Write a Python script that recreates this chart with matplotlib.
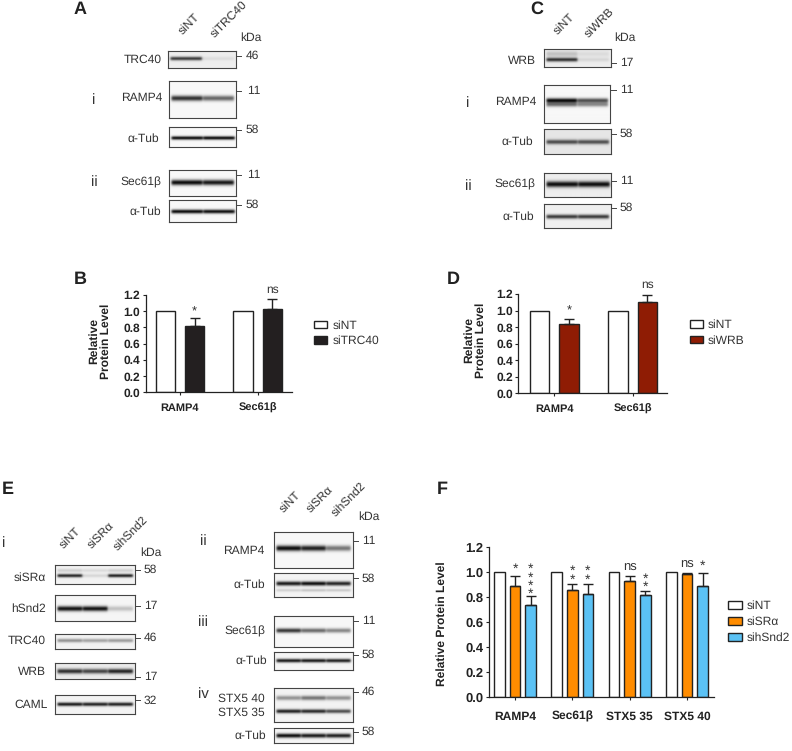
import numpy as np
import matplotlib
matplotlib.use("Agg")
import matplotlib.pyplot as plt
from matplotlib.transforms import Bbox

plt.rcParams["font.family"] = ["Liberation Sans", "DejaVu Sans"]
plt.rcParams["text.hinting"] = "no_hinting"
plt.rcParams["text.hinting_factor"] = 1

W, H = 792, 751
TXT = "#333333"
LINE = "#222222"

# bar chart values
b_groups = ["RAMP4", "Sec61β"]
b_sint = [1.0, 1.0]
b_sitrc40 = [0.82, 1.03]
b_sitrc40_err = [0.10, 0.12]

d_groups = ["RAMP4", "Sec61β"]
d_sint = [1.0, 1.0]
d_siwrb = [0.84, 1.10]
d_siwrb_err = [0.06, 0.085]

f_groups = ["RAMP4", "Sec61β", "STX5 35", "STX5 40"]
f_sint = [1.0, 1.0, 1.0, 1.0]
f_sisr = [0.885, 0.855, 0.925, 0.98]
f_sisr_err = [0.08, 0.045, 0.04, 0.015]
f_sisnd2 = [0.735, 0.82, 0.815, 0.885]
f_sisnd2_err = [0.07, 0.08, 0.035, 0.11]

# band strengths per lane
a_trc40 = [0.80, 0.07]
a_ramp4 = [0.85, 0.62]
a_tub1 = [1.0, 1.0]
a_sec61 = [1.0, 0.95]
a_tub2 = [1.0, 0.98]

c_wrb = [0.85, 0.10]
c_wrb_smear = [0.20, 0.08]
c_ramp4 = [1.0, 0.70]
c_ramp4_low = [0.55, 0.45]
c_tub1 = [0.72, 0.70]
c_sec61 = [1.0, 1.0]
c_tub2 = [0.80, 0.80]

e_sisr = [0.90, 0.12, 0.92]
e_sisr_top = [0.15, 0.10, 0.15]
e_snd2 = [0.98, 0.98, 0.22]
e_trc40 = [0.42, 0.35, 0.38]
e_wrb = [0.85, 0.75, 0.90]
e_caml = [0.95, 0.92, 0.92]
e_ramp4 = [1.0, 0.92, 0.55]
e_tub1 = [0.95, 1.0, 0.90]
e_tub1_low = [0.15, 0.20, 0.18]
e_sec61 = [0.82, 0.60, 0.48]
e_tub2 = [0.95, 0.95, 0.92]
e_stx40 = [0.42, 0.55, 0.42]
e_stx35 = [0.92, 0.88, 0.72]
e_tub3 = [1.0, 0.95, 0.92]

fig = plt.figure(figsize=(W / 100, H / 100), dpi=100, facecolor="white")


def px_axes(x0, y0, x1, y1):
    return fig.add_axes([x0 / W, 1 - y1 / H, (x1 - x0) / W, (y1 - y0) / H])


over = fig.add_axes([0, 0, 1, 1], zorder=10)
over.set_xlim(0, W)
over.set_ylim(H, 0)
over.axis("off")


def blot(x0, y0, x1, y1, bands, bg=0.97):
    # bands: (y of band, thickness, strength per lane)
    xs = np.arange(x0, x1, 0.5)
    ys = np.arange(y0, y1, 0.5)
    dark = np.zeros((len(ys), len(xs)))
    for band_y, sig, strengths in bands:
        n = len(strengths)
        step = (x1 - x0 - 4) / n
        for i, s in enumerate(strengths):
            left = x0 + 2 + i * step + 0.3
            right = left + step - 0.6
            across = 0.5 * (np.tanh((xs - left) / 1.2) - np.tanh((xs - right) / 1.2))
            down = np.exp(-0.5 * ((ys - band_y) / sig) ** 2)
            dark += s * np.outer(down, across)
    img = bg - np.clip(dark, 0, 1) * (bg - 0.05)
    ax = px_axes(x0, y0, x1, y1)
    ax.imshow(img, cmap="gray", vmin=0, vmax=1, aspect="auto", interpolation="bilinear")
    ax.set_xticks([])
    ax.set_yticks([])
    for s in ax.spines.values():
        s.set_linewidth(0.8)
        s.set_color("#444444")


def label(x, y, s, size=8.3):
    over.text(x, y, s, ha="right", va="center", fontsize=size, color=TXT)


def mw(x, y, s, tx):
    over.plot([x, x + 4.5], [y, y], color="#444444", lw=0.7)
    over.text(tx, y, s, ha="left", va="center", fontsize=8.6, color=TXT)


def lane(x, y, s):
    over.text(x, y, s, rotation=45, ha="left", va="bottom", rotation_mode="anchor",
              fontsize=8.3, color=TXT)


def letter(x, y, s):
    over.text(x, y, s, ha="center", va="center", fontsize=13, fontweight="bold", color="#222222")


def roman(x, y, s):
    over.text(x, y, s, ha="center", va="center", fontsize=10.5, color=TXT)


def stars(ax, x, y, count, size):
    # stacked asterisks as one text
    ax.text(x, y, "\n".join(["*"] * count), ha="center", va="center", fontsize=size,
            color=TXT, linespacing=0.54)


def style_bars(ax, xsize, ysize):
    ax.set_ylim(0, 1.2)
    ax.set_yticks(np.arange(0, 1.21, 0.2))
    ax.set_yticklabels(["%.1f" % v for v in np.arange(0, 1.21, 0.2)])
    ax.spines["top"].set_visible(False)
    ax.spines["right"].set_visible(False)
    ax.spines["left"].set_linewidth(0.9)
    ax.spines["bottom"].set_linewidth(0.9)
    ax.spines["left"].set_color(LINE)
    ax.spines["bottom"].set_color(LINE)
    ax.patch.set_alpha(0)
    ax.tick_params(axis="y", length=2.5, width=0.8, pad=1.5, labelsize=ysize, color=LINE, labelcolor=LINE)
    ax.tick_params(axis="x", length=2.5, width=0.8, pad=5, labelsize=xsize, color=LINE, labelcolor=LINE)
    for t in ax.get_xticklabels() + ax.get_yticklabels():
        t.set_fontweight("bold")


def px_legend(ax, x, y, fs, hl, hh, spacing):
    # upper left corner of the legend, given in figure pixels
    tr = fig.transFigure
    return ax.legend(loc="upper left", bbox_to_anchor=Bbox.from_bounds(x / W, 1 - y / H, 0, 0),
                     bbox_transform=tr, frameon=False, fontsize=fs, borderpad=0, borderaxespad=0,
                     handlelength=hl, handleheight=hh, handletextpad=0.45, labelspacing=spacing,
                     labelcolor=TXT)


def two_bars(rect, groups, first, second, err, colour, name, xlim, off, width, legend_xy):
    ax = px_axes(*rect)
    pos = np.arange(len(groups))
    ax.bar(pos - off, first, width, color="white", edgecolor=LINE, linewidth=1.0, label="siNT")
    ax.bar(pos + off, second, width, color=colour, edgecolor=LINE, linewidth=1.0, label=name,
           yerr=[np.zeros(len(err)), err],
           error_kw=dict(ecolor=LINE, elinewidth=1.0, capsize=3.6, capthick=1.0))
    ax.set_xlim(*xlim)
    ax.set_xticks(pos)
    ax.set_xticklabels(groups)
    style_bars(ax, 7.8, 8.6)
    px_legend(ax, legend_xy[0], legend_xy[1], 8.3, 1.15, 0.6, 0.35)
    return ax, pos


# panel A
letter(80, 9, "A")
lane(184, 37, "siNT")
lane(216.5, 40, "siTRC40")
over.text(240, 38, "kDa", ha="left", va="center", fontsize=8.8, color=TXT)
blot(168.3, 50.7, 236.3, 68.3, [(59, 1.3, a_trc40)], bg=0.93)
blot(169, 81.3, 236, 118.3, [(98.3, 1.9, a_ramp4)])
blot(169, 127.3, 236.3, 147.3, [(138.3, 1.3, a_tub1)])
blot(169, 170.3, 236, 195.7, [(182.3, 1.9, a_sec61)])
blot(169, 200.3, 236.3, 221.7, [(211.3, 1.4, a_tub2)])
label(161.7, 59.7, "TRC40")
label(162, 98, "RAMP4")
label(159.3, 139, "α-Tub")
label(161.3, 182, "Sec61β")
label(161, 212, "α-Tub")
mw(236.5, 55.7, "46", 246)
mw(236.5, 91, "11", 247)
mw(236.5, 130, "58", 246)
mw(236.5, 175, "11", 247)
mw(236.5, 205, "58", 246)
roman(94, 100, "i")
roman(94, 182, "ii")

# panel C
letter(537, 9, "C")
lane(559, 37, "siNT")
lane(590, 40, "siWRB")
over.text(613.7, 38, "kDa", ha="left", va="center", fontsize=8.8, color=TXT)
blot(543.7, 49.3, 610.7, 67.3, [(59.7, 1.4, c_wrb), (54, 2.0, c_wrb_smear)], bg=0.93)
blot(544, 85, 610, 123.3, [(101, 1.6, c_ramp4), (105, 1.6, c_ramp4_low)])
blot(544, 129.3, 611, 154, [(142, 1.6, c_tub1)], bg=0.90)
blot(543.7, 173.3, 611, 197.3, [(184.3, 2.1, c_sec61)], bg=0.93)
blot(543.7, 204.3, 610.7, 228.3, [(216.7, 1.5, c_tub2)], bg=0.94)
label(536.3, 61, "WRB")
label(536, 101.7, "RAMP4")
label(533, 142, "α-Tub")
label(535, 184, "Sec61β")
label(534, 217, "α-Tub")
mw(611, 63, "17", 620)
mw(611, 90, "11", 620.5)
mw(611, 134, "58", 619.5)
mw(611, 181, "11", 620.5)
mw(611, 208, "58", 619.5)
roman(468, 103, "i")
roman(468, 186, "ii")

# panel E, left column
letter(8, 489, "E")
roman(4, 543, "i")
lane(65, 551, "siNT")
lane(93.3, 551, "siSRα")
lane(119.3, 553, "sihSnd2")
over.text(140, 553, "kDa", ha="left", va="center", fontsize=8.8, color=TXT)
blot(54.7, 565.3, 134.7, 584, [(575.7, 1.2, e_sisr), (570.5, 1.2, e_sisr_top)], bg=0.95)
blot(54.7, 595.3, 134.7, 621.3, [(608.7, 1.8, e_snd2)], bg=0.96)
blot(54.7, 633.7, 134.7, 649.3, [(641, 1.3, e_trc40)], bg=0.95)
blot(54.7, 662.7, 134.7, 679.3, [(671.7, 1.7, e_wrb)], bg=0.92)
blot(54.7, 694.7, 134.7, 714.3, [(704.7, 1.3, e_caml)], bg=0.95)
label(45.5, 578, "siSRα")
label(45.5, 608.7, "hSnd2")
label(46, 641, "TRC40")
label(46, 672, "WRB")
label(48, 705, "CAML")
mw(135, 570, "58", 144)
mw(135, 605.7, "17", 144.5)
mw(135, 637.7, "46", 144)
mw(135, 676.7, "17", 144.5)
mw(135, 700.3, "32", 144)

# panel E, right column
lane(285, 514.3, "siNT")
lane(312.3, 514.3, "siSRα")
lane(337.7, 518.3, "sihSnd2")
over.text(357.7, 516.7, "kDa", ha="left", va="center", fontsize=8.8, color=TXT)
blot(274, 532.3, 352.7, 568, [(548.3, 2.0, e_ramp4)])
blot(274, 572.7, 352.7, 597.3, [(584, 1.5, e_tub1), (590.7, 1.0, e_tub1_low)], bg=0.95)
blot(274, 615.7, 352.7, 647.3, [(631, 1.6, e_sec61)])
blot(274, 652.3, 352.7, 670, [(660.7, 1.3, e_tub2)], bg=0.96)
blot(274, 688.3, 352.7, 722.3, [(698, 1.6, e_stx40), (711.3, 1.4, e_stx35)], bg=0.95)
blot(274, 728.3, 352.7, 743.3, [(735.7, 1.5, e_tub3)], bg=0.96)
label(264.3, 551, "RAMP4")
label(265, 585, "α-Tub")
label(265, 631, "Sec61β")
label(266.7, 661, "α-Tub")
label(265, 699, "STX5 40")
label(265, 713, "STX5 35")
label(266, 736, "α-Tub")
mw(353, 541, "11", 362)
mw(353, 578.3, "58", 361.5)
mw(353, 621, "11", 362)
mw(353, 655, "58", 361.5)
mw(353, 691.7, "46", 361.5)
mw(353, 731.7, "58", 361.5)
roman(203, 540.7, "ii")
roman(203, 622, "iii")
roman(203, 694, "iv")

# panel B
letter(80, 279, "B")
ax_b, pos_b = two_bars((145.7, 295, 291.7, 392.3), b_groups, b_sint, b_sitrc40, b_sitrc40_err,
                       "#231f20", "siTRC40", (-0.441, 1.437), 0.188, 0.25, (314, 320))
stars(ax_b, 0.188, 0.99, 1, 9.5)
ax_b.text(1.188, 1.265, "ns", ha="center", va="center", fontsize=8.6, color=TXT, clip_on=False)
over.text(100, 341, "Relative\nProtein Level", rotation=90, ha="center", va="center", ma="center",
          fontsize=8.8, fontweight="bold", color=LINE, linespacing=1.15)

# panel D
letter(453, 279, "D")
ax_d, pos_d = two_bars((518.3, 294, 667, 393.3), d_groups, d_sint, d_siwrb, d_siwrb_err,
                       "#8f1c04", "siWRB", (-0.457, 1.438), 0.188, 0.25, (689.7, 319.5))
stars(ax_d, 0.188, 0.99, 1, 9.5)
ax_d.text(1.188, 1.31, "ns", ha="center", va="center", fontsize=8.6, color=TXT, clip_on=False)
over.text(475, 340, "Relative\nProtein Level", rotation=90, ha="center", va="center", ma="center",
          fontsize=8.8, fontweight="bold", color=LINE, linespacing=1.15)

# panel F
letter(442, 489, "F")
ax_f = px_axes(489.3, 547, 713.7, 696.7)
pos_f = np.arange(len(f_groups))
off, bw = 0.273, 0.183
err_kw = dict(ecolor=LINE, elinewidth=1.0, capsize=3.6, capthick=1.0)
ax_f.bar(pos_f - off, f_sint, bw, color="white", edgecolor=LINE, linewidth=1.0, label="siNT")
ax_f.bar(pos_f, f_sisr, bw, color="#ff8c00", edgecolor=LINE, linewidth=1.0, label="siSRα",
         yerr=[np.zeros(4), f_sisr_err], error_kw=err_kw)
ax_f.bar(pos_f + off, f_sisnd2, bw, color="#5bc2f5", edgecolor=LINE, linewidth=1.0, label="sihSnd2",
         yerr=[np.zeros(4), f_sisnd2_err], error_kw=err_kw)
ax_f.set_xlim(-0.449, 3.466)
ax_f.set_xticks(pos_f)
ax_f.set_xticklabels(f_groups)
style_bars(ax_f, 8.6, 9.2)
ax_f.tick_params(axis="x", pad=8)
px_legend(ax_f, 727.7, 600.5, 8.3, 1.2, 0.65, 0.42)
stars(ax_f, 0, 1.02, 1, 10)
stars(ax_f, off, 0.92, 4, 10)
stars(ax_f, 1, 0.97, 2, 10)
stars(ax_f, 1 + off, 0.97, 2, 10)
stars(ax_f, 2 + off, 0.91, 2, 10)
stars(ax_f, 3 + off, 1.05, 1, 10)
ax_f.text(2, 1.042, "ns", ha="center", va="center", fontsize=9, color=TXT)
ax_f.text(3, 1.064, "ns", ha="center", va="center", fontsize=9, color=TXT)
over.text(441.7, 624, "Relative Protein Level", rotation=90, ha="center", va="center",
          fontsize=8.9, fontweight="bold", color=LINE)

fig.savefig("out.png", dpi=100, facecolor="white")
